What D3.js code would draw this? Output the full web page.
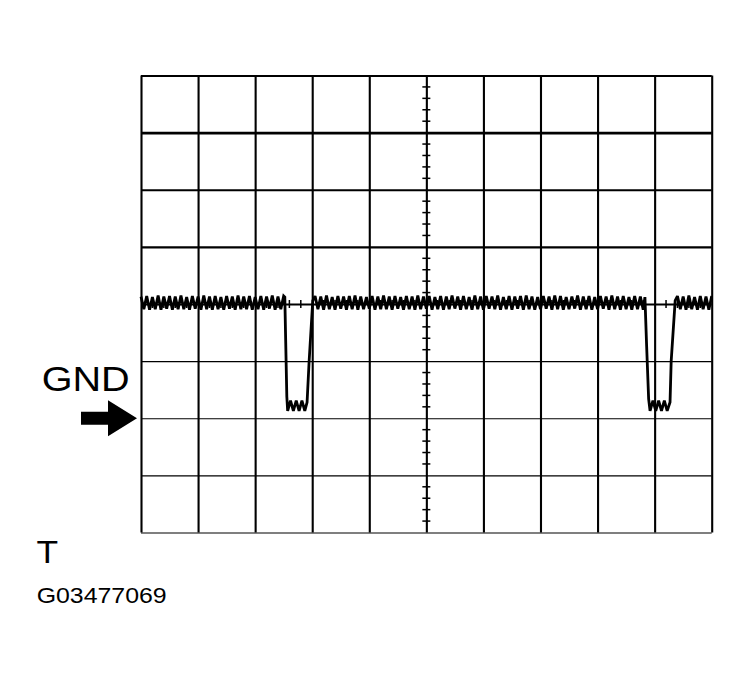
<!DOCTYPE html>
<html>
<head>
<meta charset="utf-8">
<script src="https://cdn.jsdelivr.net/npm/d3@7/dist/d3.min.js"></script>
<style>
  html, body { margin: 0; padding: 0; background: #fff; }
  svg { display: block; font-family: "Liberation Sans", Arial, sans-serif; }
</style>
</head>
<body>
<svg id="chart" width="750" height="683"></svg>
<script>
// ---- Data (time in divisions, voltage in divisions) ----
const xDivisions = [0, 1, 2, 3, 4, 5, 6, 7, 8, 9, 10];
const yDivisions = [4, 3, 2, 1, 0, -1, -2, -3, -4];
const gndLevel = -2;
const sampleStep = 0.05;

// ripple on high level, first segment (starts t = 0)
const rippleAStart = 0;
const rippleA = [
  0.13,-0.09,0.14,-0.10,0.12,-0.09,0.15,-0.10,0.13,-0.08,
  0.14,-0.10,0.13,-0.09,0.15,-0.09,0.12,-0.10,0.14,-0.08,
  0.13,-0.10,0.15,-0.09,0.13,-0.10,0.14,-0.09,0.12,-0.10,
  0.14,-0.08,0.13,-0.10,0.15,-0.09,0.13,-0.09,0.14,-0.10,
  0.12,-0.09,0.14,-0.10,0.13,-0.08,0.15,-0.10,0.13,-0.09,
  0.14
];
// first pulse down
const dip1 = [
  [2.52,0.12],[2.535,-0.63],[2.555,-1.62],[2.57,-1.87],[2.62,-1.69],
  [2.67,-1.87],[2.72,-1.69],[2.77,-1.87],[2.82,-1.69],[2.87,-1.87],
  [2.91,-1.72],[2.945,-1.02],[3.01,0.06]
];
// ripple, second segment
const rippleBStart = 3.05;
const rippleB = [
  0.14,-0.09,0.13,-0.10,0.15,-0.09,0.12,-0.10,0.14,-0.08,
  0.13,-0.10,0.14,-0.09,0.15,-0.10,0.13,-0.09,0.12,-0.08,
  0.14,-0.10,0.13,-0.09,0.15,-0.09,0.13,-0.10,0.14,-0.08,
  0.12,-0.10,0.14,-0.09,0.13,-0.10,0.15,-0.09,0.13,-0.08,
  0.14,-0.10,0.12,-0.09,0.14,-0.10,0.13,-0.09,0.15,-0.08,
  0.13,-0.10,0.14,-0.09,0.12,-0.10,0.15,-0.09,0.13,-0.10,
  0.14,-0.08,0.13,-0.09,0.15,-0.10,0.12,-0.09,0.14,-0.10,
  0.13,-0.08,0.14,-0.10,0.15,-0.09,0.13,-0.10,0.12,-0.09,
  0.14,-0.08,0.13,-0.10,0.15,-0.09,0.14,-0.10,0.12,-0.09,
  0.13,-0.08,0.15,-0.10,0.13,-0.09,0.14,-0.10,0.12,-0.09,
  0.14,-0.08,0.13,-0.10,0.15,-0.09,0.13,-0.10,0.14,-0.09,
  0.12,-0.10,0.14,-0.09,0.13,-0.10
];
// second pulse down
const dip2 = [
  [8.83,0.12],[8.86,-0.74],[8.895,-1.66],[8.92,-1.87],[8.97,-1.69],
  [9.02,-1.87],[9.07,-1.69],[9.12,-1.87],[9.17,-1.69],[9.22,-1.87],
  [9.27,-1.72],[9.29,-1.00],[9.36,0.06]
];
// ripple, last segment
const rippleCStart = 9.40;
const rippleC = [
  0.14,-0.09,0.13,-0.10,0.15,-0.09,0.12,-0.10,0.14,-0.09,
  0.13,-0.10,0.14
];

const labelGnd = "GND";
const labelT = "T";
const labelCode = "G03477069";

// ---- Layout ----
const svg = d3.select("#chart");
const x = d3.scaleLinear().domain([0, 10]).range([141, 711.7]);
const y = d3.scaleLinear().domain([-4, 4]).range([532.5, 75.5]);

// grid: vertical lines via axis
const gGrid = svg.append("g");
const vAxis = d3.axisBottom(x).tickValues(xDivisions).tickSize(y(-4) - y(4)).tickFormat("");
gGrid.append("g").attr("transform", `translate(0,${y(4)})`).call(vAxis)
  .call(g => g.select(".domain").remove())
  .call(g => g.selectAll(".tick line").attr("stroke", "#000").attr("stroke-width", 2.1));

// horizontal lines
const hAxis = d3.axisRight(y).tickValues(yDivisions).tickSize(x(10) - x(0)).tickFormat("");
gGrid.append("g").attr("transform", `translate(${x(0)},0)`).call(hAxis)
  .call(g => g.select(".domain").remove())
  .call(g => g.selectAll(".tick line").attr("stroke", "#000")
    .attr("stroke-width", d => d === 3 ? 2.8 : (d >= 0 ? 2.1 : 1.2)));

// minor ticks on center vertical
const minorY = d3.range(-4, 4.001, 0.2).filter(v => Math.abs(v - Math.round(v)) > 1e-6);
gGrid.append("g").selectAll("line").data(minorY).join("line")
  .attr("x1", x(5) - 4).attr("x2", x(5) + 4)
  .attr("y1", d => y(d)).attr("y2", d => y(d))
  .attr("stroke", "#000").attr("stroke-width", 1.5);
// minor ticks on center horizontal
const minorX = d3.range(0, 10.001, 0.2).filter(v => Math.abs(v - Math.round(v)) > 1e-6);
gGrid.append("g").selectAll("line").data(minorX).join("line")
  .attr("y1", y(0) - 4).attr("y2", y(0) + 4)
  .attr("x1", d => x(d)).attr("x2", d => x(d))
  .attr("stroke", "#000").attr("stroke-width", 1.5);

// ---- Trace ----
const toPts = (start, vals) => vals.map((v, i) => [start + i * sampleStep, v]);
const trace = [].concat(
  toPts(rippleAStart, rippleA), dip1,
  toPts(rippleBStart, rippleB), dip2,
  toPts(rippleCStart, rippleC)
).sort((a, b) => a[0] - b[0]);

const line = d3.line().x(d => x(d[0])).y(d => y(d[1]));
svg.append("path").datum(trace).attr("d", line)
  .attr("fill", "none").attr("stroke", "#000").attr("stroke-width", 2.8)
  .attr("stroke-linejoin", "miter").attr("stroke-miterlimit", 3);

// ---- Labels ----
svg.append("text").attr("x", 41.7).attr("y", 390.5)
  .attr("font-size", 35).attr("textLength", 88).attr("lengthAdjust", "spacingAndGlyphs")
  .text(labelGnd);

// arrow pointing at GND level
const gy = y(gndLevel), ax = x(0);
const arrowPts = [[ax-60,gy-6.5],[ax-33,gy-6.5],[ax-33,gy-18],[ax-4,gy],[ax-33,gy+18],[ax-33,gy+6.5],[ax-60,gy+6.5]];
svg.append("polygon").attr("points", arrowPts.map(p => p.join(",")).join(" ")).attr("fill", "#000");

svg.append("text").attr("x", 36.5).attr("y", 563.3)
  .attr("font-size", 31).attr("textLength", 21.6).attr("lengthAdjust", "spacingAndGlyphs")
  .text(labelT);

svg.append("text").attr("x", 36.7).attr("y", 603.3)
  .attr("font-size", 21.4).attr("textLength", 130).attr("lengthAdjust", "spacingAndGlyphs")
  .text(labelCode);
</script>
</body>
</html>
